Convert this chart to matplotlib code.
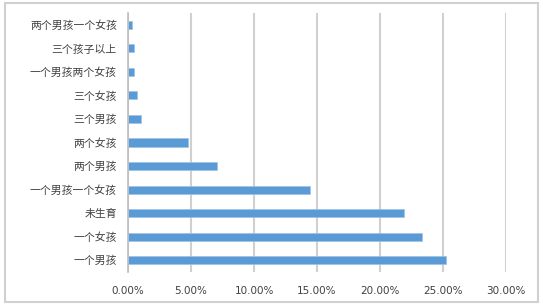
import matplotlib
matplotlib.use("Agg")
import matplotlib.pyplot as plt
from matplotlib.patches import Rectangle
from matplotlib.ticker import FuncFormatter

plt.rcParams['font.family'] = ['Noto Sans CJK SC', 'DejaVu Sans']

categories = ["一个男孩", "一个女孩", "未生育", "一个男孩一个女孩", "两个男孩", "两个女孩",
              "三个男孩", "三个女孩", "一个男孩两个女孩", "三个孩子以上", "两个男孩一个女孩"]
values = [25.25, 23.3, 21.87, 14.45, 7.03, 4.78, 1.06, 0.69, 0.5, 0.5, 0.34]
xticks = [0, 5, 10, 15, 20, 25, 30]

fig = plt.figure(figsize=(5.43, 3.06), dpi=100)
fig.patches.append(Rectangle((5/543, 1-302/306), 533/543, 299/306, transform=fig.transFigure,
                             fill=False, edgecolor='#d0d0d0', linewidth=1.5))
ax = fig.add_axes([128/543, 1-272/306, 378/543, 259/306])

y = list(range(len(categories)))
ax.barh(y, values, height=0.34, color='#5B9BD5', edgecolor='#9dc3e6', linewidth=0.5, zorder=3)
ax.set_ylim(-0.5, len(categories)-0.5)
ax.set_xlim(0, 30)
ax.set_xticks(xticks)
ax.xaxis.set_major_formatter(FuncFormatter(lambda v, p: f"{v:.2f}%"))
ax.set_yticks(y)
ax.set_yticklabels(categories, fontsize=7.8, color='#404040')
ax.tick_params(axis='x', length=0, labelsize=7.5, colors='#404040', pad=10)
ax.tick_params(axis='y', length=0, pad=8)
for lab in ax.get_xticklabels():
    lab.set_family(['DejaVu Sans'])
ax.grid(axis='x', color='#d0d0d0', linewidth=1.5, zorder=0)
for s in ['top', 'right', 'bottom']:
    ax.spines[s].set_visible(False)
ax.spines['left'].set_color('#bfbfbf')
ax.spines['left'].set_linewidth(1.2)
ax.spines['left'].set_zorder(4)

fig.savefig("out.png", dpi=100)
